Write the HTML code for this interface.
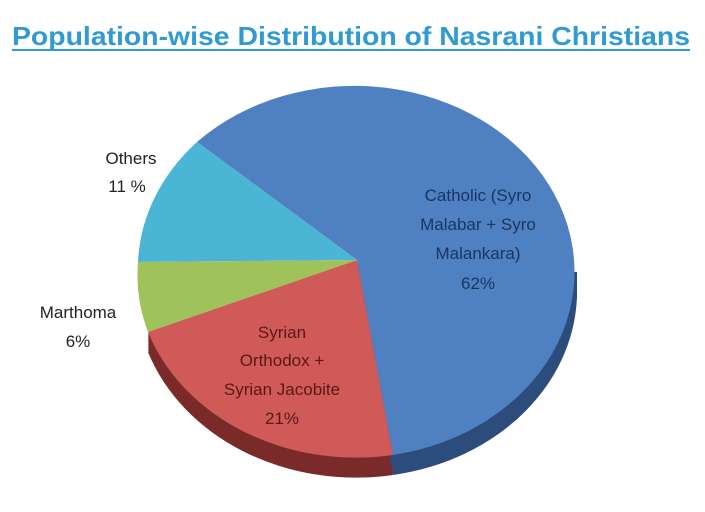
<!DOCTYPE html>
<html><head><meta charset="utf-8"><style>
html,body{margin:0;padding:0;background:#fff;}
svg{display:block;font-family:"Liberation Sans",Arial,sans-serif;}
</style></head><body>
<svg width="705" height="512" viewBox="0 0 705 512">
<rect width="705" height="512" fill="#fff"/>
<text x="12" y="45" textLength="678" lengthAdjust="spacingAndGlyphs" font-size="26" font-weight="bold" fill="#2f9ad4">Population-wise Distribution of Nasrani Christians</text>
<line x1="12" y1="50" x2="690" y2="50" stroke="#2f9ad4" stroke-width="2"/>
<defs>
<g id="side">
<path d="M357 260 L148 332 A220 186 0 0 0 393 455 Z" fill="#7a2b29"/>
<path d="M357 260 L393 455 A220 186 0 0 0 577 270 Z" fill="#2c4d7c"/>
</g>
</defs>
<use href="#side" transform="translate(0,2)"/>
<use href="#side" transform="translate(0,4)"/>
<use href="#side" transform="translate(0,6)"/>
<use href="#side" transform="translate(0,8)"/>
<use href="#side" transform="translate(0,10)"/>
<use href="#side" transform="translate(0,12)"/>
<use href="#side" transform="translate(0,14)"/>
<use href="#side" transform="translate(0,16)"/>
<use href="#side" transform="translate(0,18)"/>
<use href="#side" transform="translate(0,20)"/>
<path d="M357 260 L393 455 A220 186 0 1 0 197 142 Z" fill="#4f80c2"/>
<path d="M357 260 L197 142 A220 186 0 0 0 138 262 Z" fill="#4bb5d6"/>
<path d="M357 260 L138 262 A220 186 0 0 0 148 332 Z" fill="#a0c25a"/>
<path d="M357 260 L148 332 A220 186 0 0 0 393 455 Z" fill="#d05a57"/>
<g font-size="17" text-anchor="middle" fill="#1c3560">
<text x="478" y="201">Catholic (Syro</text>
<text x="478" y="230">Malabar + Syro</text>
<text x="478" y="259">Malankara)</text>
<text x="478" y="289">62%</text>
</g>
<g font-size="17" text-anchor="middle" fill="#5a1816">
<text x="282" y="338">Syrian</text>
<text x="282" y="366">Orthodox +</text>
<text x="282" y="395">Syrian Jacobite</text>
<text x="282" y="424">21%</text>
</g>
<g font-size="17" text-anchor="middle" fill="#222">
<text x="131" y="164">Others</text>
<text x="127" y="192">11 %</text>
<text x="78" y="318">Marthoma</text>
<text x="78" y="347">6%</text>
</g>
</svg>
</body></html>
